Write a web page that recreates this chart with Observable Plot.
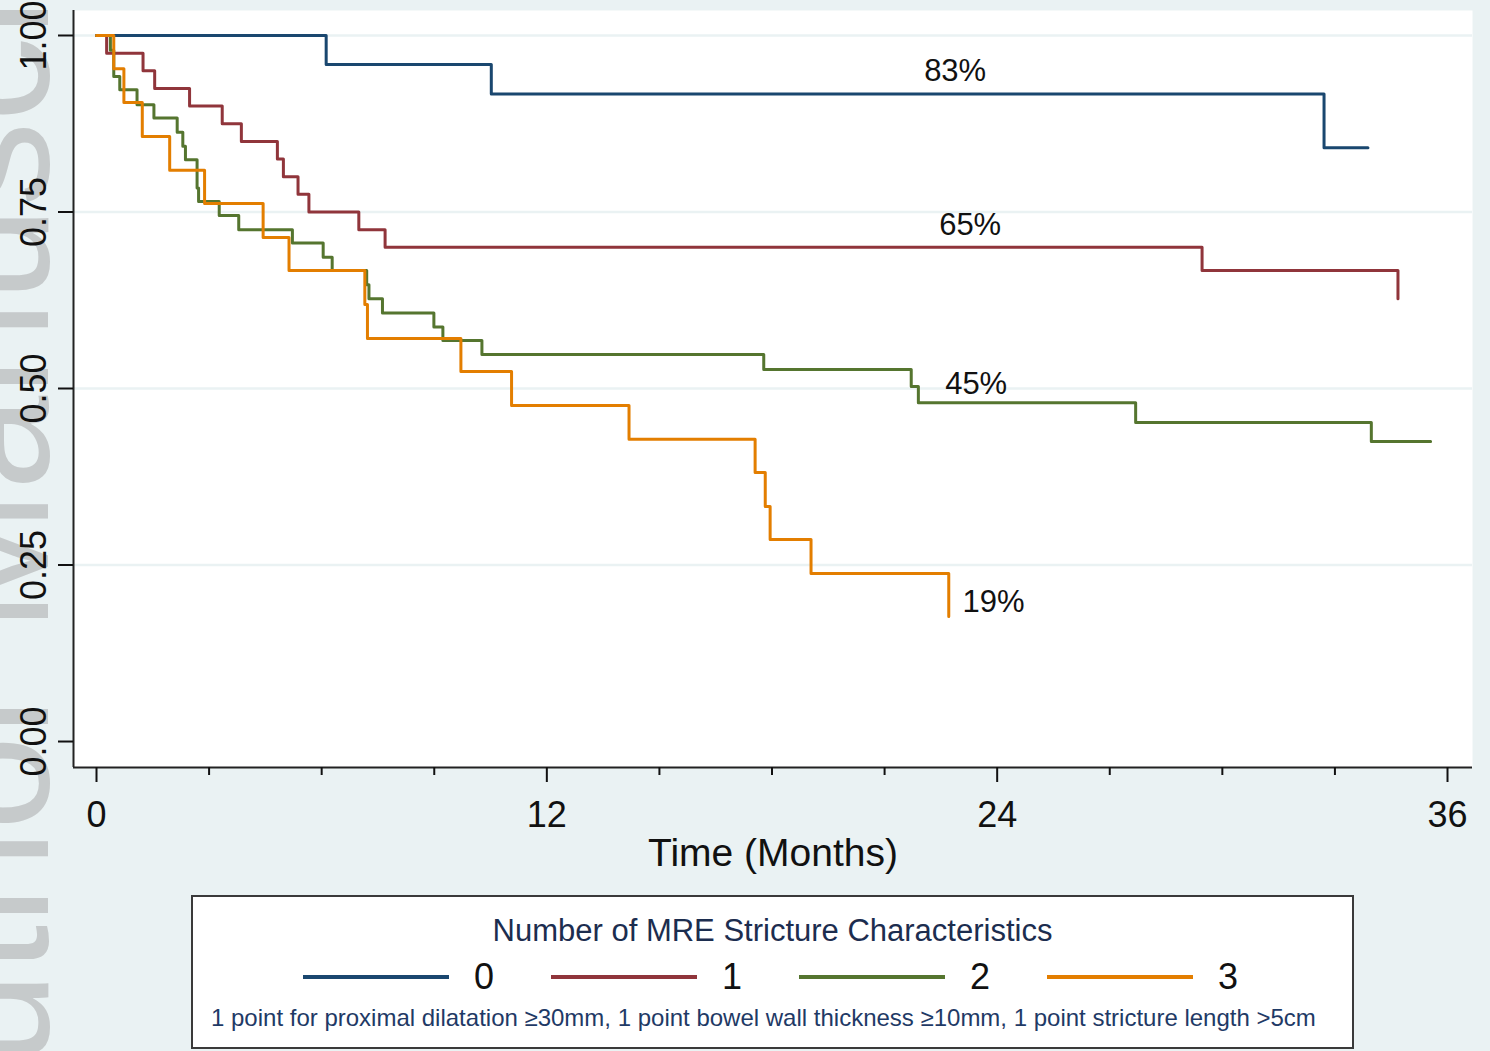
<!DOCTYPE html>
<html><head><meta charset="utf-8">
<script src="https://cdn.jsdelivr.net/npm/d3@7"></script>
<script src="https://cdn.jsdelivr.net/npm/@observablehq/plot@0.6"></script>
<style>
html,body{margin:0;padding:0;background:#eaf2f3;}
#wrap{position:relative;width:1490px;height:1051px;overflow:hidden;font-family:"Liberation Sans",Arial,sans-serif;background:#eaf2f3;}
#wm{position:absolute;left:-96px;top:1180px;transform-origin:0 0;transform:rotate(-90deg);font-size:170px;line-height:1;color:#c6cacb;white-space:nowrap;}
#chart{position:absolute;left:0;top:0;}
#legend{position:absolute;left:191px;top:895px;width:1159px;height:150px;border:2px solid #3a3a3a;background:#fff;}
#legend .t{position:absolute;left:0;width:100%;top:17px;text-align:center;font-size:31px;line-height:34px;color:#1c2d4f;}
#legend .sw{position:absolute;height:4px;top:78px;}
#legend .lb{position:absolute;top:60px;font-size:36px;line-height:40px;color:#111;transform:translateX(-50%);}
#legend .n{position:absolute;left:18px;top:107px;font-size:24px;line-height:28px;color:#1f3a66;white-space:nowrap;}
</style></head>
<body><div id="wrap"><div id="wm">Author Manuscript</div><div id="chart"></div><div id="legend"></div></div>
<script>
// Kaplan-Meier step data (time in months, survival probability)
const groups = ["0", "1", "2", "3"];
const colors = ["#1a476f", "#90353b", "#55752f", "#e37e00"];

const times0 = [0, 6.12, 10.52, 32.71, 33.88];
const surv0  = [1, 0.959, 0.917, 0.841, 0.841];

const times1 = [0, 0.27, 1.24, 1.55, 2.48, 3.35, 3.86, 4.82, 4.98, 5.37, 5.66, 6.99, 7.69, 29.46, 34.68];
const surv1  = [1, 0.975, 0.950, 0.925, 0.900, 0.875, 0.850, 0.825, 0.800, 0.775, 0.750, 0.725, 0.700, 0.667, 0.627];

const times2 = [0, 0.37, 0.46, 0.62, 1.08, 1.53, 2.15, 2.30, 2.37, 2.68, 2.72, 3.27, 3.79, 5.22, 6.04, 6.28, 7.20, 7.26, 7.62, 8.99, 9.23, 10.27, 17.78, 21.71, 21.90, 27.69, 33.97, 35.55];
const surv2  = [1, 0.979, 0.942, 0.923, 0.902, 0.883, 0.863, 0.843, 0.824, 0.784, 0.765, 0.745, 0.725, 0.706, 0.686, 0.667, 0.647, 0.627, 0.607, 0.587, 0.568, 0.548, 0.527, 0.503, 0.480, 0.452, 0.425, 0.425];

const times3 = [0, 0.46, 0.73, 1.22, 1.95, 2.88, 4.44, 5.13, 7.15, 7.22, 9.71, 11.06, 14.19, 17.55, 17.82, 17.95, 19.04, 22.71];
const surv3  = [1, 0.953, 0.905, 0.857, 0.809, 0.762, 0.714, 0.667, 0.619, 0.571, 0.524, 0.476, 0.428, 0.381, 0.333, 0.286, 0.238, 0.177];

const labelText = ["83%", "65%", "45%", "19%"];
const labelX = [22.88, 23.28, 23.44, 23.9];
const labelY = [0.950, 0.732, 0.506, 0.197];

const yTicks = [0, 0.25, 0.5, 0.75, 1];
const yGrid = [0.25, 0.5, 0.75, 1];
const xMajor = [0, 12, 24, 36];
const xMinor = [3, 6, 9, 15, 18, 21, 27, 30, 33];

const xTitle = "Time (Months)";
const legendTitle = "Number of MRE Stricture Characteristics";
const legendNote = "1 point for proximal dilatation \u226530mm, 1 point bowel wall thickness \u226510mm, 1 point stricture length >5cm";

const allTimes = [times0, times1, times2, times3];
const allSurv = [surv0, surv1, surv2, surv3];
const series = groups.map((g, i) => allTimes[i].map((t, j) => ({group: g, t, s: allSurv[i][j]})));

const xMin = -0.613, xMax = 36.666, yMin = -0.0368, yMax = 1.0354;
const font = "'Liberation Sans', Arial, sans-serif";

const chart = Plot.plot({
  width: 1490,
  height: 890,
  marginLeft: 73,
  marginRight: 18,
  marginTop: 10,
  marginBottom: 123,
  x: {domain: [xMin, xMax], label: null},
  y: {domain: [yMin, yMax], label: null},
  color: {domain: groups, range: colors},
  style: {background: "transparent", fontFamily: font, overflow: "visible"},
  marks: [
    Plot.frame({fill: "white", stroke: null}),
    Plot.ruleY(yGrid, {stroke: "#eaf2f3", strokeWidth: 2.5}),
    ...series.map(d => Plot.line(d, {x: "t", y: "s", stroke: "group", curve: "step-after", strokeWidth: 3})),
    Plot.text(labelText, {x: labelX, y: labelY, text: d => d, fontSize: 31, fill: "#111"}),
    Plot.ruleX([xMin], {stroke: "#222", strokeWidth: 2}),
    Plot.ruleY([yMin], {stroke: "#222", strokeWidth: 2}),
    Plot.axisY({ticks: yTicks, tickSize: 15, tickRotate: -90, tickFormat: d3.format(".2f"), fontSize: 36, tickPadding: 13, color: "#111", strokeWidth: 2}),
    Plot.axisX({ticks: xMajor, tickSize: 15, fontSize: 36, tickPadding: 19, color: "#111", strokeWidth: 2}),
    Plot.axisX({ticks: xMinor, tickSize: 8, tickFormat: () => "", color: "#111", strokeWidth: 2}),
    Plot.text([xTitle], {frameAnchor: "bottom", dy: 86, lineAnchor: "middle", text: d => d, fontSize: 39, fill: "#111"})
  ]
});
document.getElementById("chart").appendChild(chart);

// Legend
const lg = document.getElementById("legend");
const t = document.createElement("div"); t.className = "t"; t.textContent = legendTitle; lg.appendChild(t);
groups.forEach((g, i) => {
  const x0 = 110 + i * 248;
  const sw = document.createElement("div"); sw.className = "sw";
  sw.style.left = x0 + "px"; sw.style.width = "146px"; sw.style.background = colors[i];
  lg.appendChild(sw);
  const lb = document.createElement("div"); lb.className = "lb";
  lb.style.left = (x0 + 181) + "px"; lb.textContent = g;
  lg.appendChild(lb);
});
const n = document.createElement("div"); n.className = "n"; n.textContent = legendNote; lg.appendChild(n);
</script>
</body></html>
